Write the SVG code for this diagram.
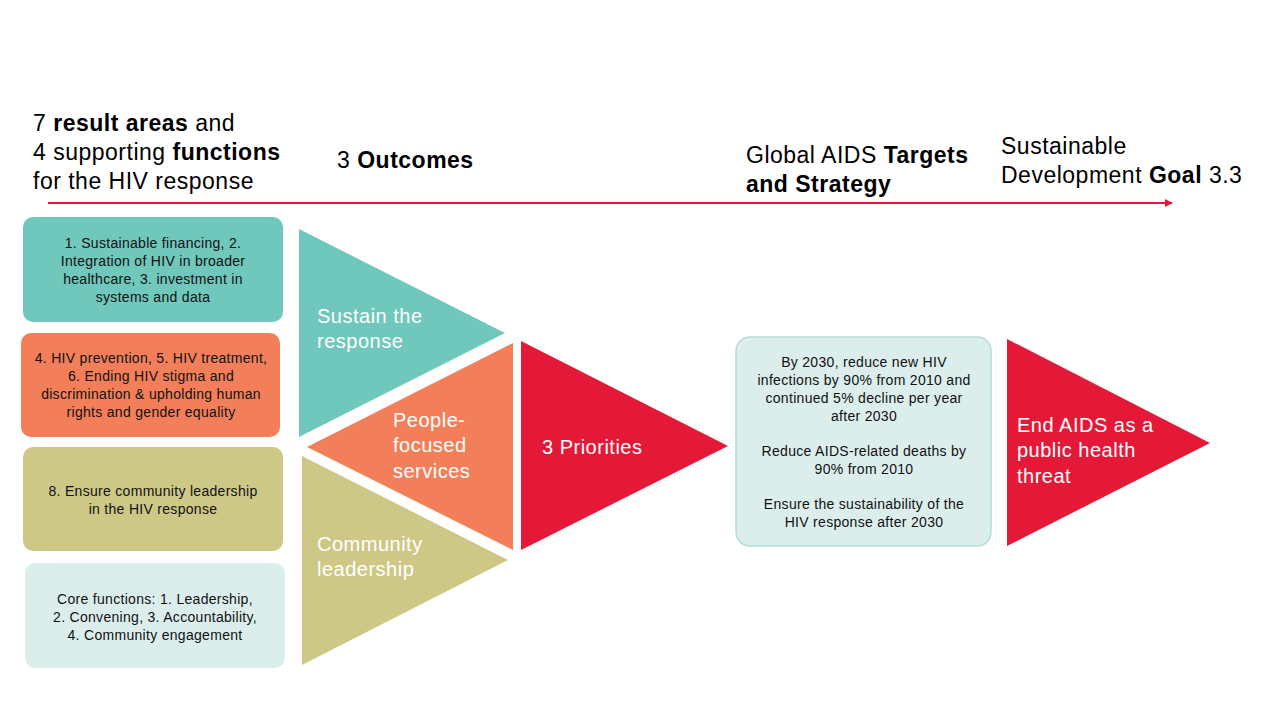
<svg xmlns="http://www.w3.org/2000/svg" width="1280" height="720" viewBox="0 0 1280 720">
<defs>
<style>
.h{font-family:"Liberation Sans",Arial,sans-serif;font-size:23px;letter-spacing:0.5px;fill:#000}
.b{font-weight:bold}
.s{font-family:"Liberation Sans",Arial,sans-serif;font-size:14px;letter-spacing:0.3px;fill:#111;text-anchor:middle}
.w{font-family:"Liberation Sans",Arial,sans-serif;font-size:20px;letter-spacing:0.5px;fill:#fff}
</style>
<marker id="arr" viewBox="0 0 10 10" refX="9" refY="5" markerWidth="4" markerHeight="4" orient="auto" markerUnits="strokeWidth">
<path d="M0,0 L10,5 L0,10 z" fill="#E31937"/>
</marker>
</defs>
<rect width="1280" height="720" fill="#fff"/>
<g id="connectors">
<line x1="48" y1="203" x2="1172" y2="203" stroke="#E31937" stroke-width="2" marker-end="url(#arr)"/>
</g>
<g id="headers">
<text class="h" x="33" y="131">7 <tspan class="b">result areas</tspan> and</text>
<text class="h" x="33" y="160">4 supporting <tspan class="b">functions</tspan></text>
<text class="h" x="33" y="189">for the HIV response</text>
<text class="h" x="337" y="168">3 <tspan class="b">Outcomes</tspan></text>
<text class="h" x="746" y="163">Global AIDS <tspan class="b">Targets</tspan></text>
<text class="h b" x="746" y="192">and Strategy</text>
<text class="h" x="1001" y="154">Sustainable</text>
<text class="h" x="1001" y="183">Development <tspan class="b">Goal</tspan> 3.3</text>
</g>
<g id="box-sustain">
<rect x="23" y="217" width="260" height="105" rx="10" fill="#70C7BC"/>
<text class="s" x="153" y="248">1. Sustainable financing, 2.</text>
<text class="s" x="153" y="266">Integration of HIV in broader</text>
<text class="s" x="153" y="284">healthcare, 3.  investment in</text>
<text class="s" x="153" y="302">systems and data</text>
</g>
<g id="box-people">
<rect x="21" y="333" width="259" height="104" rx="10" fill="#F37F5A"/>
<text class="s" x="151" y="363">4. HIV prevention, 5. HIV treatment,</text>
<text class="s" x="151" y="381">6. Ending HIV stigma and</text>
<text class="s" x="151" y="399">discrimination &amp; upholding human</text>
<text class="s" x="151" y="417">rights and gender equality</text>
</g>
<g id="box-community">
<rect x="23" y="447" width="260" height="104" rx="10" fill="#CEC887"/>
<text class="s" x="153" y="496">8. Ensure community leadership</text>
<text class="s" x="153" y="514">in the HIV response</text>
</g>
<g id="box-core">
<rect x="25" y="563" width="260" height="105" rx="10" fill="#DCEEEC"/>
<text class="s" x="155" y="604">Core functions: 1. Leadership,</text>
<text class="s" x="155" y="622">2. Convening, 3. Accountability,</text>
<text class="s" x="155" y="640">4. Community engagement</text>
</g>
<g id="tri-sustain">
<polygon points="299,229 505,333 299,437" fill="#70C7BC"/>
<text class="w" x="317" y="323">Sustain the</text>
<text class="w" x="317" y="348">response</text>
</g>
<g id="tri-people">
<polygon points="513,343 513,550 307,447" fill="#F37F5A"/>
<text class="w" x="393" y="427">People-</text>
<text class="w" x="393" y="452">focused</text>
<text class="w" x="393" y="478">services</text>
</g>
<g id="tri-community">
<polygon points="302,456 508,560 302,665" fill="#CEC887"/>
<text class="w" x="317" y="551">Community</text>
<text class="w" x="317" y="576">leadership</text>
</g>
<g id="tri-priorities">
<polygon points="521,341 728,446 521,550" fill="#E31937"/>
<text class="w" x="542" y="454">3 Priorities</text>
</g>
<g id="box-targets">
<rect x="736" y="337" width="255" height="209" rx="14" fill="#DCEEEC" stroke="#B5DDD8" stroke-width="1.5"/>
<text class="s" x="864" y="367">By 2030, reduce new HIV</text>
<text class="s" x="864" y="385">infections by 90% from 2010 and</text>
<text class="s" x="864" y="403">continued 5% decline per year</text>
<text class="s" x="864" y="421">after 2030</text>
<text class="s" x="864" y="456">Reduce AIDS-related deaths by</text>
<text class="s" x="864" y="474">90% from 2010</text>
<text class="s" x="864" y="509">Ensure the sustainability of the</text>
<text class="s" x="864" y="527">HIV response after 2030</text>
</g>
<g id="tri-end">
<polygon points="1007,339 1210,443 1007,546" fill="#E31937"/>
<text class="w" x="1017" y="432">End AIDS as a</text>
<text class="w" x="1017" y="457">public health</text>
<text class="w" x="1017" y="483">threat</text>
</g>
</svg>
